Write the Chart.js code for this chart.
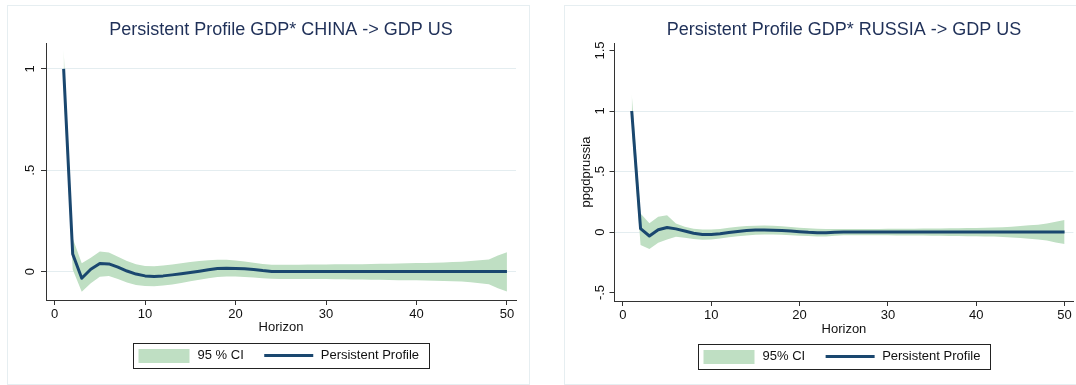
<!DOCTYPE html>
<html>
<head>
<meta charset="utf-8">
<script src="https://cdn.jsdelivr.net/npm/chart.js@4.4.1/dist/chart.umd.min.js"></script>
<style>
  body { margin: 0; background: #fff; width: 1076px; height: 385px; overflow: hidden; position: relative; }
  .frame { position: absolute; border: 1px solid #e6eef1; box-sizing: border-box; }
  .box { position: absolute; top: 0; height: 385px; }
</style>
</head>
<body>
<div class="frame" style="left:7px;top:5px;width:523px;height:380px"></div>
<div class="frame" style="left:564px;top:5px;width:520px;height:380px"></div>
<div class="box" style="left:0;width:540px"><canvas id="chinaChart"></canvas></div>
<div class="box" style="left:540px;width:536px"><canvas id="russiaChart"></canvas></div>
<script>
const horizon = [
  1, 2, 3, 4, 5, 6, 7, 8, 9, 10,
  11, 12, 13, 14, 15, 16, 17, 18, 19, 20,
  21, 22, 23, 24, 25, 26, 27, 28, 29, 30,
  31, 32, 33, 34, 35, 36, 37, 38, 39, 40,
  41, 42, 43, 44, 45, 46, 47, 48, 49, 50
]
const xTicks = [0, 10, 20, 30, 40, 50]

// China -> US
const chinaProfile = [
  1.000, 0.087, -0.033, 0.012, 0.040, 0.038, 0.022, 0.003, -0.012, -0.021,
  -0.024, -0.021, -0.016, -0.010, -0.004, 0.002, 0.009, 0.015, 0.017, 0.016,
  0.014, 0.010, 0.005, 0.001, 0, 0, 0, 0, 0, 0,
  0, 0, 0, 0, 0, 0, 0, 0, 0, 0,
  0, 0, 0, 0, 0, 0, 0, 0, 0, 0
]
const chinaUpper = [
  1.095, 0.165, 0.041, 0.069, 0.099, 0.094, 0.074, 0.053, 0.036, 0.028,
  0.027, 0.030, 0.035, 0.041, 0.047, 0.052, 0.056, 0.058, 0.058, 0.055,
  0.050, 0.044, 0.038, 0.034, 0.034, 0.034, 0.034, 0.035, 0.035, 0.035,
  0.036, 0.036, 0.037, 0.037, 0.038, 0.039, 0.039, 0.040, 0.041, 0.042,
  0.043, 0.044, 0.045, 0.047, 0.049, 0.052, 0.056, 0.060, 0.080, 0.096
]
const chinaLower = [
  0.900, 0.010, -0.099, -0.057, -0.025, -0.021, -0.037, -0.054, -0.066, -0.071,
  -0.072, -0.069, -0.063, -0.056, -0.048, -0.040, -0.033, -0.027, -0.024, -0.024,
  -0.026, -0.029, -0.033, -0.035, -0.036, -0.036, -0.036, -0.037, -0.037, -0.037,
  -0.038, -0.038, -0.039, -0.039, -0.040, -0.040, -0.041, -0.042, -0.042, -0.043,
  -0.044, -0.045, -0.046, -0.047, -0.049, -0.053, -0.057, -0.062, -0.082, -0.098
]
const chinaYTicks = [0, 0.5, 1]

// Russia -> US
const russiaProfile = [
  1.000, 0.028, -0.033, 0.019, 0.038, 0.026, 0.008, -0.010, -0.020, -0.021,
  -0.014, -0.004, 0.005, 0.012, 0.016, 0.017, 0.015, 0.012, 0.008, 0.003,
  -0.002, -0.005, -0.006, -0.002, 0, 0, 0, 0, 0, 0,
  0, 0, 0, 0, 0, 0, 0, 0, 0, 0,
  0, 0, 0, 0, 0, 0, 0, 0, 0, 0
]
const russiaUpper = [
  1.140, 0.154, 0.072, 0.127, 0.138, 0.070, 0.044, 0.028, 0.020, 0.020,
  0.026, 0.035, 0.043, 0.049, 0.052, 0.053, 0.051, 0.047, 0.042, 0.036,
  0.031, 0.027, 0.025, 0.025, 0.025, 0.025, 0.026, 0.026, 0.026, 0.027,
  0.027, 0.028, 0.028, 0.029, 0.029, 0.030, 0.031, 0.032, 0.033, 0.034,
  0.035, 0.037, 0.040, 0.044, 0.050, 0.055, 0.061, 0.070, 0.085, 0.099
]
const russiaLower = [
  0.860, -0.107, -0.140, -0.088, -0.061, -0.040, -0.048, -0.057, -0.063, -0.062,
  -0.054, -0.044, -0.035, -0.028, -0.023, -0.021, -0.021, -0.023, -0.026, -0.030,
  -0.033, -0.036, -0.037, -0.030, -0.026, -0.026, -0.026, -0.026, -0.027, -0.027,
  -0.028, -0.028, -0.029, -0.029, -0.030, -0.031, -0.032, -0.033, -0.034, -0.035,
  -0.036, -0.038, -0.041, -0.045, -0.050, -0.056, -0.062, -0.071, -0.086, -0.099
]
const russiaYTicks = [-0.5, 0, 0.5, 1, 1.5]

const chinaLegend = ["95 % CI", "Persistent Profile"]
const russiaLegend = ["95% CI", "Persistent Profile"]

const FONT = '"Liberation Sans", Arial, sans-serif'
const NAVY = "#1a476f"
const CI_GREEN = "#bfdfc3"
const TITLE = "#1f3058"
const TEXT = "#111"
const AXIS = "#333"
const GRID = "#e4edf0"

Chart.defaults.font.family = FONT

// Stata writes .5 and -.5 without the leading zero
function stataNum(v) {
  return String(v).replace(/^(-?)0\./, "$1.")
}

// legend box drawn under the x axis, like Stata's
function stataLegend(labels) {
  return {
    id: "stataLegend",
    afterDraw(chart) {
      const { ctx, chartArea } = chart
      ctx.save()
      ctx.font = "13px " + FONT
      const w0 = ctx.measureText(labels[0]).width
      const w1 = ctx.measureText(labels[1]).width
      const width = 5.5 + 51 + 8 + w0 + 20.5 + 49 + 7.5 + w1 + 10
      const left = Math.round((chartArea.left + chartArea.right) / 2 - width / 2)
      const top = Math.round(chartArea.bottom + 42.5)
      const mid = top + 12.5

      ctx.strokeStyle = "#222"
      ctx.lineWidth = 1
      ctx.strokeRect(left + 0.5, top + 0.5, Math.round(width), 25)

      ctx.fillStyle = CI_GREEN
      ctx.fillRect(left + 5.5, top + 6, 51, 14)

      ctx.fillStyle = TEXT
      ctx.textBaseline = "middle"
      let x = left + 5.5 + 51 + 8
      ctx.fillText(labels[0], x, mid)
      x += w0 + 20.5

      ctx.strokeStyle = NAVY
      ctx.lineWidth = 3
      ctx.beginPath()
      ctx.moveTo(x, mid)
      ctx.lineTo(x + 49, mid)
      ctx.stroke()
      x += 49 + 7.5

      ctx.fillText(labels[1], x, mid)
      ctx.restore()
    }
  }
}

function makeChart(id, o) {
  const pts = arr => horizon.map((h, i) => ({ x: h, y: arr[i] }))
  return new Chart(document.getElementById(id), {
    type: "line",
    data: {
      datasets: [
        { label: o.legend[0], data: pts(o.upper), borderColor: "rgba(0,0,0,0)", borderWidth: 0,
          backgroundColor: CI_GREEN, fill: "+1", pointRadius: 0 },
        { label: "lower", data: pts(o.lower), borderColor: "rgba(0,0,0,0)", borderWidth: 0,
          fill: false, pointRadius: 0 },
        { label: o.legend[1], data: pts(o.profile), borderColor: NAVY, borderWidth: 3,
          borderJoinStyle: "round", fill: false, pointRadius: 0 }
      ]
    },
    options: {
      responsive: true,
      maintainAspectRatio: false,
      animation: false,
      events: [],
      layout: { padding: { left: 0, top: 0, right: o.padRight, bottom: o.padBottom } },
      plugins: {
        filler: { drawTime: "beforeDatasetsDraw" },
        legend: { display: false },
        tooltip: { enabled: false },
        title: {
          display: true, text: o.title, color: TITLE, fullSize: false,
          font: { size: 18, weight: "normal" }, padding: { top: 19, bottom: 2.4 }
        }
      },
      scales: {
        x: {
          type: "linear", min: -0.95, max: 51,
          afterBuildTicks: s => { s.ticks = xTicks.map(v => ({ value: v })) },
          afterFit: s => { s.height = o.xHeight },
          grid: { drawOnChartArea: false, tickLength: 5, tickColor: AXIS },
          border: { color: AXIS, width: 1 },
          ticks: { color: TEXT, font: { size: 13 }, padding: 2, maxRotation: 0 },
          title: { display: true, text: "Horizon", color: TEXT, font: { size: 13 }, padding: { top: 0, bottom: 0 } }
        },
        y: {
          min: o.yMin, max: o.yMax,
          afterBuildTicks: s => { s.ticks = o.yTicks.map(v => ({ value: v })) },
          afterFit: s => { s.width = o.yWidth },
          grid: {
            color: c => (c.tick && o.grid.includes(c.tick.value)) ? GRID : "rgba(0,0,0,0)",
            tickLength: 5, tickColor: AXIS
          },
          border: { color: AXIS, width: 1 },
          ticks: {
            color: TEXT, font: { size: 13 }, minRotation: 90, maxRotation: 90,
            crossAlign: "center", padding: o.yTickPad, callback: v => stataNum(v)
          },
          title: o.yTitle
            ? { display: true, text: o.yTitle, color: TEXT, font: { size: 13 }, padding: { top: 38.7, bottom: 0 } }
            : { display: false }
        }
      }
    },
    plugins: [stataLegend(o.legend)]
  })
}

makeChart("chinaChart", {
  title: "Persistent Profile GDP* CHINA -> GDP US",
  profile: chinaProfile, upper: chinaUpper, lower: chinaLower,
  yTicks: chinaYTicks, grid: [0, 0.5, 1], yMin: -0.14, yMax: 1.128,
  legend: chinaLegend,
  yWidth: 46, yTickPad: 5.6, padRight: 24, xHeight: 35.1, padBottom: 49.9
})

makeChart("russiaChart", {
  title: "Persistent Profile GDP* RUSSIA -> GDP US",
  profile: russiaProfile, upper: russiaUpper, lower: russiaLower,
  yTicks: russiaYTicks, grid: [0, 0.5, 1], yMin: -0.57, yMax: 1.562,
  legend: russiaLegend, yTitle: "ppgdprussia",
  yWidth: 74.5, yTickPad: 0.5, padRight: 2.6, xHeight: 36.1, padBottom: 47.9
})
</script>
</body>
</html>
